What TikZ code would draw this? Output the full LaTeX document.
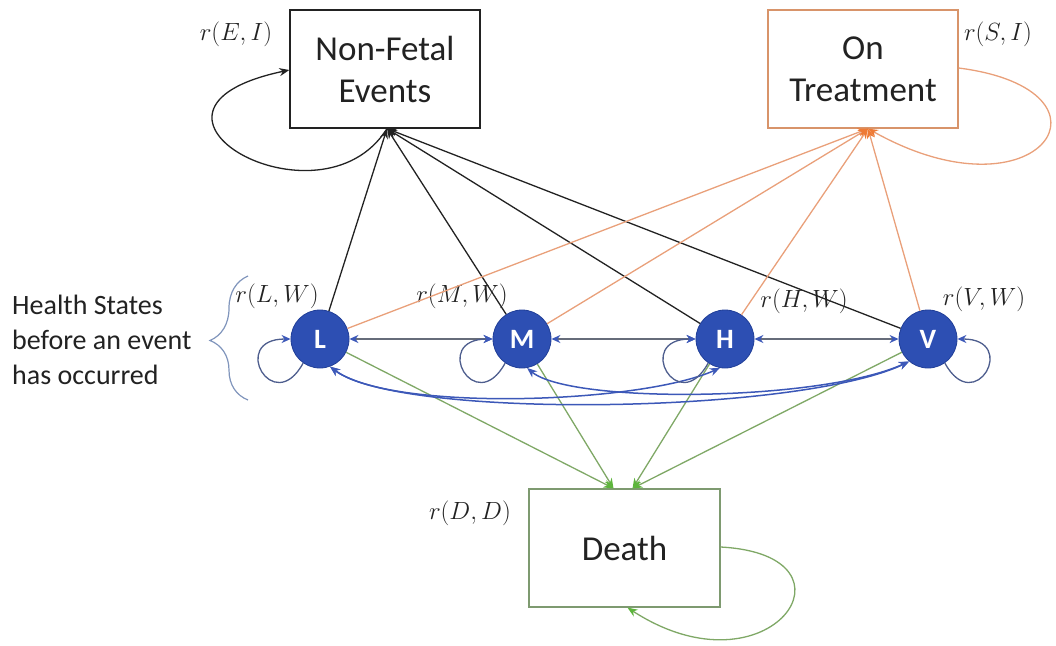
\documentclass[tikz,border=0pt]{standalone}
\usepackage{fontspec}
\setmainfont{Carlito}
\usetikzlibrary{arrows.meta,decorations.pathreplacing,calc}
\definecolor{blk}{HTML}{222222}
\definecolor{orng}{HTML}{E9A07A}
\definecolor{orngtip}{HTML}{EE7A35}
\definecolor{orngbox}{HTML}{D8946A}
\definecolor{grn}{HTML}{7FA866}
\definecolor{grntip}{HTML}{5DB53C}
\definecolor{grnbox}{HTML}{7E9A70}
\definecolor{circ}{HTML}{2D4FB3}
\definecolor{circd}{HTML}{213F98}
\definecolor{blu}{HTML}{3C58B8}
\definecolor{loopc}{HTML}{4E5E8E}
\definecolor{hline}{HTML}{666C7A}
\definecolor{brc}{HTML}{8095BC}
\begin{document}
\begin{tikzpicture}[x=1pt,y=-1pt,
  box/.style={draw, line width=1.3pt, minimum width=190pt, minimum height=118pt, align=center, text=blk, font=\fontsize{35}{42}\selectfont, inner sep=0pt},
  state/.style={circle, fill=circ, draw=circd, line width=0.8pt, minimum size=58pt, inner sep=0pt, text=white, font=\fontsize{28}{30}\selectfont\bfseries},
  lab/.style={font=\fontsize{25}{28}\selectfont, text=blk, inner sep=0pt},
  blkarr/.style={draw=blk, line width=1.3pt, -{Stealth[length=10pt,width=8pt]}},
  orarr/.style={draw=orng, line width=1.3pt, -{Stealth[length=10pt,width=8pt,color=orngtip]}},
  grarr/.style={draw=grn, line width=1.3pt, -{Stealth[length=10pt,width=8pt,color=grntip]}},
  harr/.style={draw=hline, line width=1.4pt, {Stealth[length=9pt,width=8pt,color=blu]}-{Stealth[length=9pt,width=8pt,color=blu]}},
  barr/.style={draw=blu, line width=1.5pt, {Stealth[length=10pt,width=8pt]}-{Stealth[length=10pt,width=8pt]}},
  sloop/.style={draw=loopc, line width=1.3pt, -{Stealth[length=9pt,width=8pt,color=blu]}}
]
\useasboundingbox (0,0) rectangle (1056,645);

% boxes
\node[box, draw=blk] (NF) at (385,69) {Non-Fetal\\Events};
\node[box, draw=orngbox] (OT) at (863,69) {On\\Treatment};
\node[box, draw=grnbox, minimum width=191pt] (DE) at (624.5,548) {Death};

% states
\node[state] (L) at (320,339) {L};
\node[state] (M) at (522,339) {M};
\node[state] (H) at (725,339) {H};
\node[state] (V) at (928,339) {V};

% labels
\node[lab] (lEI) at (236,34) {$r(E,I)$};
\node[lab] (lSI) at (998,34) {$r(S,I)$};
\node[lab] (lLW) at (277,296) {$r(L,W)$};
\node[lab] (lMW) at (462,296) {$r(M,W)$};
\node[lab] (lHW) at (804,301) {$r(H,W)$};
\node[lab] (lVW) at (984,299) {$r(V,W)$};
\node[lab] (lDD) at (470,513) {$r(D,D)$};

\node[anchor=west, align=left, text=blk, inner sep=0pt, font=\fontsize{28}{35}\selectfont] (HS) at (12,340) {Health States\\before an event\\has occurred};
\draw[brc, line width=1.2pt, decorate, decoration={brace, amplitude=38pt, aspect=0.48}] (248,400) -- (248,276);

% coordinates where arrows meet
\coordinate (nfin) at ($(NF.south)+(2,0)$);
\coordinate (otin) at ($(OT.south)+(5,0)$);
\coordinate (dein1) at ($(DE.north)+(-11,0)$);
\coordinate (dein2) at ($(DE.north)+(8,0)$);

% self loops of boxes
\draw[blkarr] (nfin) .. controls (320,235) and (100,110) .. (NF.west |- 0,70);
\draw[orarr] (OT.east |- 0,68) .. controls (1130,90) and (1040,225) .. (otin);
\draw[grarr] (DE.east |- 0,547) .. controls (870,555) and (770,700) .. ($(DE.south)+(3,0)$);

% green to Death
\draw[grarr] (L) -- (dein1);
\draw[grarr] (M) -- (dein1);
\draw[grarr] (H) -- (dein2);
\draw[grarr] (V) -- (dein2);

% long blue curves
\draw[barr] (L.-70) .. controls (400,420) and (800,414) .. (V.-130);
\draw[barr] (L.-70) .. controls (390,412) and (640,404) .. (H.-100);
\draw[barr] (M.-80) .. controls (570,404) and (820,402) .. (V.-130);

% horizontal arrows
\draw[harr] (L) -- (M);
\draw[harr] (M) -- (H);
\draw[harr] (H) -- (V);

% self loops of states
\draw[sloop] (L.235) .. controls +(-30,55) and +(-62,0) .. (L.west);
\draw[sloop] (M.235) .. controls +(-30,55) and +(-62,0) .. (M.west);
\draw[sloop] (H.235) .. controls +(-30,55) and +(-62,0) .. (H.west);
\draw[sloop] (V.-55) .. controls +(30,55) and +(62,0) .. (V.east);

% black to Non-Fetal
\draw[blkarr] (L) -- (nfin);
\draw[blkarr] (M) -- (nfin);
\draw[blkarr] (H) -- (nfin);
\draw[blkarr] (V) -- (nfin);

% orange to On Treatment
\draw[orarr] (L) -- (otin);
\draw[orarr] (M) -- (otin);
\draw[orarr] (H) -- (otin);
\draw[orarr] (V) -- (otin);
\end{tikzpicture}
\end{document}
